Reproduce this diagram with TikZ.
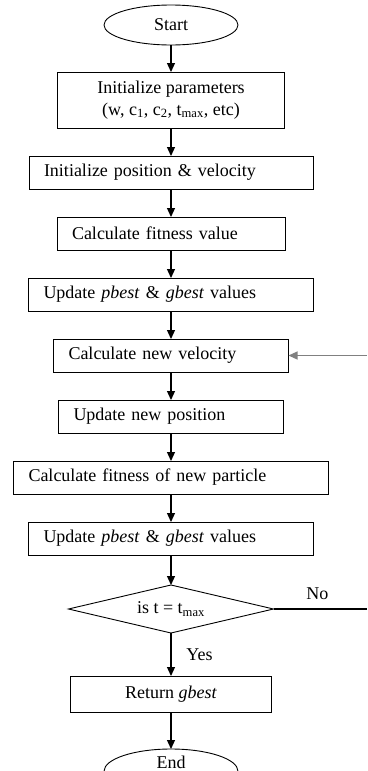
\documentclass[tikz,border=0pt]{standalone}
\usepackage{fontspec}
\setmainfont{Liberation Serif}
\usetikzlibrary{positioning,shapes.geometric,arrows.meta}

\begin{document}
\begin{tikzpicture}[x=1pt,y=-1pt,font=\fontsize{18}{22}\selectfont,outer sep=0pt,
  term/.style={ellipse,draw,line width=0.9pt,minimum width=134pt,minimum height=40pt,inner sep=0pt},
  proc/.style={rectangle,draw,line width=0.9pt,minimum height=33pt,inner xsep=15pt,text width=#1,align=left},
  cond/.style={diamond,draw,line width=0.9pt,aspect=4.3,minimum width=205pt,minimum height=48pt,inner sep=0pt},
  flow/.style={-{Triangle[length=9pt,width=8pt]},line width=1.2pt}]
\useasboundingbox (0,0) rectangle (367,771);
\node [term] (start) at (171,25) {Start};
\node [rectangle,draw,line width=0.9pt,minimum width=227pt,minimum height=56pt,align=center,below=27pt of start] (init)
  {Initialize parameters\\(w, c\textsubscript{1}, c\textsubscript{2}, t\textsubscript{max}, etc)};
\node [proc=254pt,below=28pt of init] (initpos) {Initialize position \& velocity};
\node [proc=198pt,below=28pt of initpos] (fit) {Calculate fitness value};
\node [proc=255pt,below=28pt of fit] (best) {Update \textit{pbest} \& \textit{gbest} values};
\node [proc=205pt,below=28pt of best] (vel) {Calculate new velocity};
\node [proc=195pt,below=28pt of vel] (newpos) {Update new position};
\node [proc=285pt,below=28pt of newpos] (newfit) {Calculate fitness of new particle};
\node [proc=255pt,below=28pt of newfit] (newbest) {Update \textit{pbest} \& \textit{gbest} values};
\node [cond,below=30pt of newbest] (check) {is t = t\textsubscript{max}};
\node [rectangle,draw,line width=0.9pt,minimum width=201pt,minimum height=36pt,below=43pt of check] (ret) {Return \textit{gbest}};
\node [term,text depth=19pt,below=37pt of ret] (end) {End};

\coordinate (rim) at (367,0);
\coordinate (noend) at (check.east -| rim);
\coordinate (backin) at (vel.east -| rim);

\draw [flow] (start) -- (init);
\draw [flow] (init) -- (initpos);
\draw [flow] (initpos) -- (fit);
\draw [flow] (fit) -- (best);
\draw [flow] (best) -- (vel);
\draw [flow] (vel) -- (newpos);
\draw [flow] (newpos) -- (newfit);
\draw [flow] (newfit) -- (newbest);
\draw [flow] (newbest) -- (check);
\draw [flow] (check) -- node [right=12pt] (yes) {Yes} (ret);
\draw [flow] (ret) -- (end);
\draw [line width=1.1pt] (check.east) -- node [above=6pt,pos=0.47] (no) {No} (noend);
\draw [flow,draw=gray] (backin) -- (vel.east);
\end{tikzpicture}
\end{document}
